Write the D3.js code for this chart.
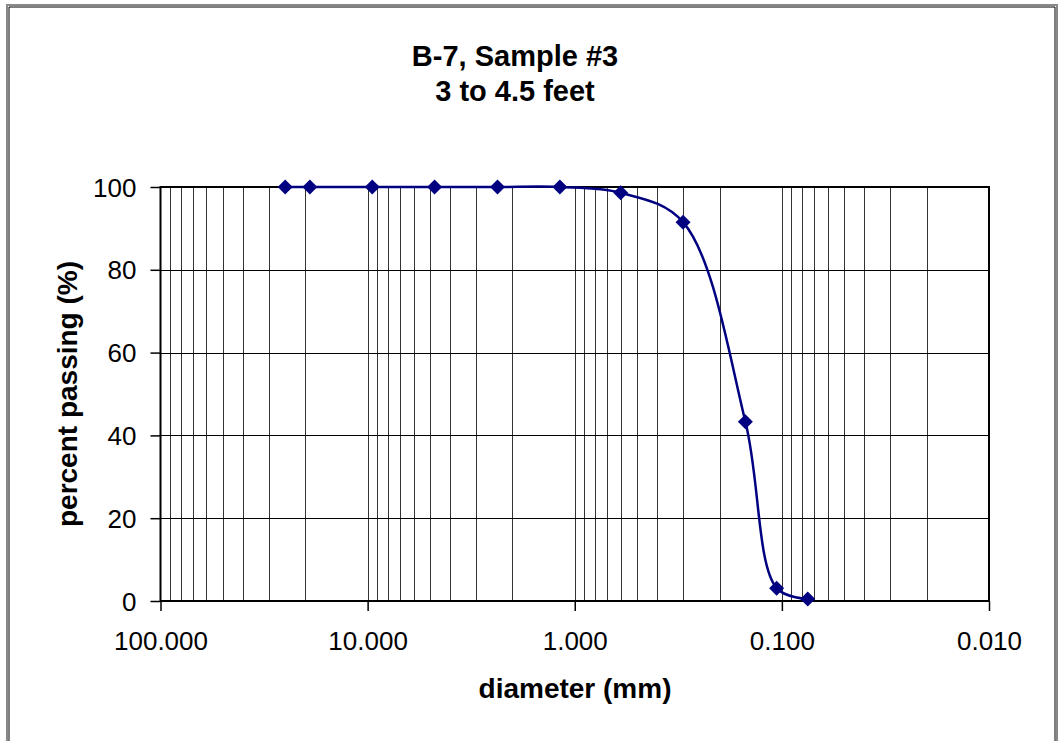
<!DOCTYPE html>
<html>
<head>
<meta charset="utf-8">
<script src="https://cdn.jsdelivr.net/npm/d3@7"></script>
<style>
  body { margin: 0; background: #fff; }
  text { font-family: "Liberation Sans", Arial, sans-serif; fill: #000; }
  .tick-label { font-size: 26px; }
  .axis-title { font-size: 28px; font-weight: bold; }
  .chart-title { font-size: 29px; font-weight: bold; }
</style>
</head>
<body>
<div id="chart"></div>
<script>
// sieve sizes (mm) and percent passing
var sizes = [25, 19, 9.5, 4.75, 2.36, 1.18, 0.6, 0.3, 0.15, 0.106, 0.075];
var passing = [100, 100, 100, 100, 100, 100, 98.6, 91.5, 43.3, 3.1, 0.5];

var xTicks = [100, 10, 1, 0.1, 0.01];
var yTicks = [0, 20, 40, 60, 80, 100];
var titleLines = ['B-7, Sample #3', '3 to 4.5 feet'];

var width = 1063, height = 741;
var plotLeft = 160.5, plotRight = 989, plotTop = 187, plotBottom = 601;

var svg = d3.select('#chart').append('svg')
  .attr('width', width)
  .attr('height', height);

// outer frame
svg.append('path')
  .attr('d', 'M7,' + height + 'V5H1057V' + height)
  .attr('fill', 'none')
  .attr('stroke', '#888')
  .attr('stroke-width', 2);
svg.append('path')
  .attr('d', 'M9,' + height + 'V7H1055V' + height)
  .attr('fill', 'none')
  .attr('stroke', '#000')
  .attr('stroke-width', 1);

var x = d3.scaleLog().domain([100, 0.01]).range([plotLeft, plotRight]);
var y = d3.scaleLinear().domain([0, 100]).range([plotBottom, plotTop]);

//minor log grid: 1..9 in each decade
var gridVals = [];
[10, 1, 0.1, 0.01].forEach(function(d) {
  for (var i = 1; i <= 9; i++) gridVals.push(+(d * i).toPrecision(3));
});
gridVals = gridVals.filter(function(v) { return v < 100 && v > 0.01; });

svg.append('g')
  .selectAll('line')
  .data(gridVals)
  .enter().append('line')
    .attr('x1', function(d) { return Math.round(x(d)) + 0.5; })
    .attr('x2', function(d) { return Math.round(x(d)) + 0.5; })
    .attr('y1', plotTop)
    .attr('y2', plotBottom)
    .attr('stroke', '#333')
    .attr('stroke-width', 1);

svg.append('g')
  .selectAll('line')
  .data(yTicks.filter(function(d) { return d > 0 && d < 100; }))
  .enter().append('line')
    .attr('x1', plotLeft)
    .attr('x2', plotRight)
    .attr('y1', function(d) { return Math.round(y(d)) + 0.5; })
    .attr('y2', function(d) { return Math.round(y(d)) + 0.5; })
    .attr('stroke', '#000')
    .attr('stroke-width', 1);

// plot border
svg.append('rect')
  .attr('x', plotLeft)
  .attr('y', plotTop)
  .attr('width', plotRight - plotLeft)
  .attr('height', plotBottom - plotTop)
  .attr('fill', 'none')
  .attr('stroke', '#000')
  .attr('stroke-width', 2);

// y axis
var yAxis = svg.append('g')
  .attr('transform', 'translate(' + plotLeft + ',0)')
  .call(d3.axisLeft(y).tickValues(yTicks).tickSize(10).tickPadding(14).tickFormat(d3.format('d')));
yAxis.select('.domain').remove();
yAxis.selectAll('line').attr('stroke', '#000').attr('stroke-width', 1.5);
yAxis.selectAll('text').attr('class', 'tick-label').attr('font-size', null).attr('font-family', null).attr('dy', '0.35em');

// x axis
var xAxis = svg.append('g')
  .attr('transform', 'translate(0,' + plotBottom + ')')
  .call(d3.axisBottom(x).tickValues(xTicks).tickSize(10).tickPadding(21).tickFormat(d3.format('.3f')));
xAxis.select('.domain').remove();
xAxis.selectAll('line').attr('stroke', '#000').attr('stroke-width', 1.5);
xAxis.selectAll('text').attr('class', 'tick-label').attr('font-size', null).attr('font-family', null);

// data
var pts = sizes.map(function(s, i) { return [x(s), y(passing[i])]; });

var line = d3.line().curve(d3.curveCatmullRom.alpha(0.5));
svg.append('path')
  .attr('d', line(pts))
  .attr('fill', 'none')
  .attr('stroke', '#000080')
  .attr('stroke-width', 2.5);

svg.append('g')
  .selectAll('path')
  .data(pts)
  .enter().append('path')
    .attr('d', 'M0,-7.5L7.5,0L0,7.5L-7.5,0Z')
    .attr('transform', function(d) { return 'translate(' + d[0] + ',' + d[1] + ')'; })
    .attr('fill', '#000080');

// titles
svg.append('text')
  .attr('class', 'chart-title')
  .attr('text-anchor', 'middle')
  .selectAll('tspan')
  .data(titleLines)
  .enter().append('tspan')
    .attr('x', 515)
    .attr('y', function(d, i) { return 66 + i * 35; })
    .text(function(d) { return d; });

svg.append('text')
  .attr('class', 'axis-title')
  .attr('text-anchor', 'middle')
  .attr('x', 575)
  .attr('y', 698)
  .text('diameter (mm)');

svg.append('text')
  .attr('class', 'axis-title')
  .attr('text-anchor', 'middle')
  .attr('transform', 'translate(77,394) rotate(-90)')
  .text('percent passing (%)');
</script>
</body>
</html>
